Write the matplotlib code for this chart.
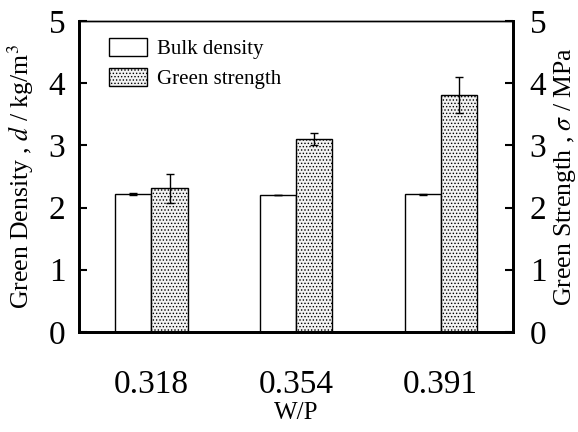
import numpy as np
import matplotlib.pyplot as plt

plt.rcParams['font.family'] = ['Liberation Serif', 'DejaVu Serif']
plt.rcParams['mathtext.fontset'] = 'stix'
plt.rcParams['hatch.linewidth'] = 0.6
plt.rcParams['hatch.color'] = '#555555'

wp = ['0.318', '0.354', '0.391']
bulk = [2.22, 2.20, 2.21]
bulk_err = [0.02, 0.0, 0.01]
strength = [2.31, 3.10, 3.81]
strength_err = [0.23, 0.10, 0.29]

x = np.arange(len(wp))
w = 0.25

fig = plt.figure(figsize=(5.78, 4.32), dpi=100)
ax = fig.add_axes([0.137, 0.232, 0.7505, 0.719])

ax.bar(x - w / 2, bulk, w, yerr=bulk_err, color='white', edgecolor='black',
       linewidth=1.0, error_kw=dict(elinewidth=1, capsize=3, ecolor='black'),
       label='Bulk density')
ax.bar(x + w / 2, strength, w, yerr=strength_err, color='#f2f2f2', edgecolor='black',
       hatch='.....', linewidth=1.0,
       error_kw=dict(elinewidth=1, capsize=3, ecolor='black'),
       label='Green strength')

ax.set_xlim(-0.5, 2.5)
ax.set_ylim(0, 5)
ax.set_xticks(x)
ax.set_xticklabels(wp, fontsize=24)
ax.tick_params(axis='x', length=0, pad=27)
ax.set_yticks(range(6))
ax.tick_params(axis='y', direction='in', length=6, width=1.5, labelsize=24, pad=10)
ax.set_xlabel('W/P', fontsize=18, va='center')
ax.xaxis.set_label_coords(0.5, -0.262)
ax.set_ylabel('Green Density , $d$ / kg/m$^3$', fontsize=18.5, va='center')
ax.yaxis.set_label_coords(-0.135, 0.5)

for s in ['left', 'right', 'bottom']:
    ax.spines[s].set_linewidth(2)
ax.spines['top'].set_linewidth(1)

ax2 = ax.twinx()
ax2.set_ylim(0, 5)
ax2.set_yticks(range(6))
ax2.tick_params(axis='y', direction='in', length=6, width=1.5, labelsize=24, pad=12)
ax2.set_ylabel('Green Strength , $\\sigma$ / MPa', fontsize=18.5, va='center',
               rotation=90)
ax2.yaxis.set_label_coords(1.12, 0.5)
for s in ['left', 'right', 'bottom']:
    ax2.spines[s].set_linewidth(2)
ax2.spines['top'].set_linewidth(1)

ax.legend(loc='upper left', bbox_to_anchor=(0.069, 0.945), frameon=False,
          borderpad=0, borderaxespad=0,
          fontsize=15, handlelength=1.8, handleheight=0.9, handletextpad=0.5,
          labelspacing=0.45)

fig.savefig('out.png', dpi=100)
